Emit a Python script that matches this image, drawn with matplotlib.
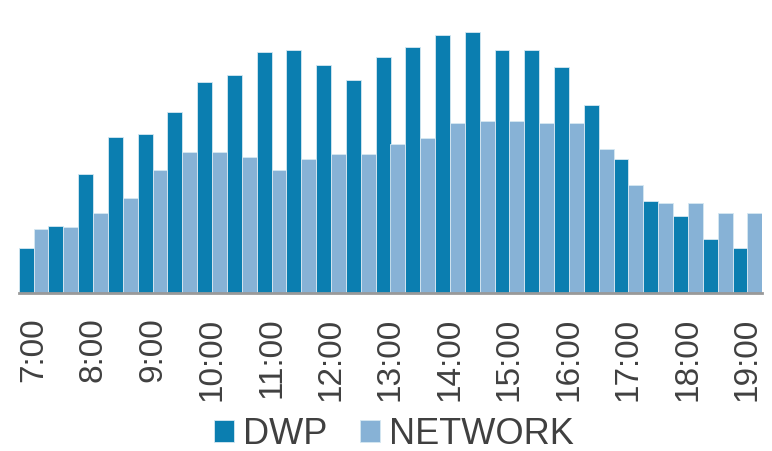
import matplotlib
matplotlib.use("Agg")
import matplotlib.pyplot as plt
import numpy as np

plt.rcParams['font.family'] = ['Liberation Sans', 'DejaVu Sans']

# half-hour slots from 7:00 to 19:00
slots = ["7:00", "7:30", "8:00", "8:30", "9:00", "9:30", "10:00", "10:30",
         "11:00", "11:30", "12:00", "12:30", "13:00", "13:30", "14:00", "14:30",
         "15:00", "15:30", "16:00", "16:30", "17:00", "17:30", "18:00", "18:30", "19:00"]

dwp = [45, 67, 119, 156, 159, 181, 211, 218, 241, 243, 228, 213, 236,
       246, 258, 261, 243, 243, 226, 188, 134, 92, 77, 54, 45]
network = [64, 66, 80, 95, 123, 141, 141, 136, 123, 134, 139, 139, 149,
           155, 170, 172, 172, 170, 170, 144, 108, 90, 90, 80, 80]

dwp_color = "#0B7EB0"
net_color = "#87B2D6"
text_color = "#404040"

W, H = 772, 452
fig = plt.figure(figsize=(W / 100, H / 100), dpi=100)
ax = fig.add_axes([18.7 / W, (H - 294) / H, (762.3 - 18.7) / W, (294 - 10) / H])

x = np.arange(len(slots))
w = 0.5
ax.bar(x - w / 2, dwp, w, color=dwp_color, edgecolor="#d6e8f2", linewidth=0.6, label="DWP")
ax.bar(x + w / 2, network, w, color=net_color, edgecolor="#d6e8f2", linewidth=0.6, label="NETWORK")

ax.set_xlim(-0.5, len(slots) - 0.5)
ax.set_ylim(0, 284)
ax.axhline(0, color="#999999", linewidth=2, clip_on=False)

for s in ax.spines.values():
    s.set_visible(False)
ax.set_yticks([])
ax.set_xticks(x[::2])
ax.set_xticklabels(slots[::2], rotation=90, fontsize=24, color=text_color)
ax.tick_params(axis="x", length=0, pad=17)

leg = ax.legend(loc="center", bbox_to_anchor=(0.505, -(435 - 294) / 284), ncol=2,
                frameon=False, fontsize=26, handlelength=0.55, handleheight=0.55,
                handletextpad=0.25, columnspacing=0.9, borderaxespad=0)
for t in leg.get_texts():
    t.set_color(text_color)

fig.savefig("out.png", dpi=100)
